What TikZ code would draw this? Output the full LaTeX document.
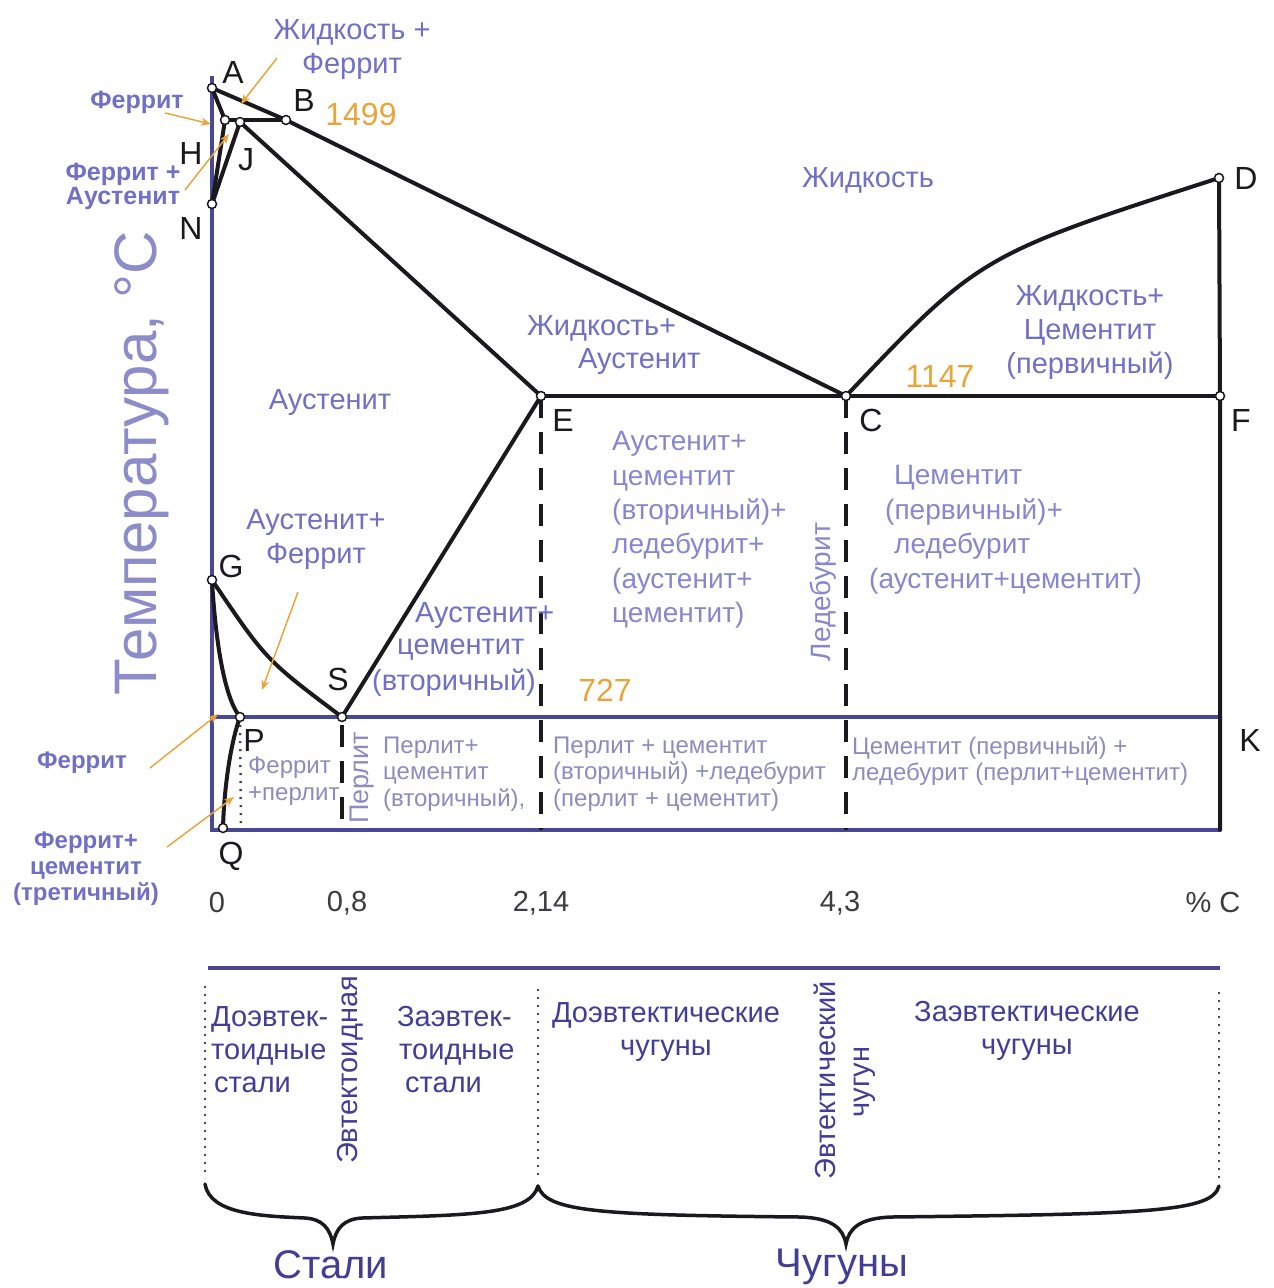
\documentclass[tikz,border=0pt]{standalone}
\usepackage{fontspec}
\setmainfont{Liberation Sans}
\usetikzlibrary{arrows.meta}
\definecolor{lab}{RGB}{112,112,196}
\definecolor{labl}{RGB}{135,135,205}
\definecolor{labs}{RGB}{140,140,190}
\definecolor{labd}{RGB}{66,62,150}
\definecolor{labt}{RGB}{140,140,200}
\definecolor{axb}{RGB}{72,72,150}
\definecolor{orn}{RGB}{232,165,60}
\definecolor{ink}{RGB}{25,25,30}
\begin{document}
\begin{tikzpicture}[x=1pt,y=-1pt,
  phaseln/.style={line width=4pt, draw=ink, line cap=round, line join=round},
  axisln/.style={line width=3.5pt, draw=axb},
  dashv/.style={line width=3.5pt, draw=ink, dash pattern=on 22pt off 14pt},
  dotv/.style={line width=2.5pt, draw=ink!80, dash pattern=on 2pt off 6pt},
  ptc/.style={circle, draw=ink, fill=white, line width=1.5pt, inner sep=0pt, minimum size=9pt},
  ptlab/.style={font=\fontsize{32}{32}\selectfont, text=ink, inner sep=0pt},
  lbig/.style={font=\fontsize{29}{34}\selectfont, text=lab, align=center, inner sep=0pt},
  lmid/.style={font=\fontsize{28}{34.4}\selectfont, text=labl, align=left, inner sep=0pt},
  lsmall/.style={font=\fontsize{24}{26.5}\selectfont, text=labs, align=left, inner sep=0pt},
  lside/.style={font=\bfseries\fontsize{25}{25}\selectfont, text=lab, align=center, inner sep=0pt},
  ltemp/.style={font=\fontsize{32}{32}\selectfont, text=orn, inner sep=0pt},
  lnum/.style={font=\fontsize{29}{29}\selectfont, text=ink!85, inner sep=0pt},
  lbot/.style={font=\fontsize{29}{33}\selectfont, text=labd, align=left, inner sep=0pt},
  oarr/.style={draw=orn, line width=1.5pt, -{Stealth[length=10pt,width=8pt]}},
  bracel/.style={line width=3.5pt, draw=ink, line cap=round},
]
\fill[white] (0,0) rectangle (1274,1288);
\useasboundingbox (0,0) rectangle (1274,1288);

% key points
\coordinate (cA) at (212,88);
\coordinate (cH) at (225,120);
\coordinate (cJ) at (240,122);
\coordinate (cB) at (286,120);
\coordinate (cN) at (212,204);
\coordinate (cD) at (1219,178);
\coordinate (cE) at (541,396);
\coordinate (cC) at (846,396);
\coordinate (cF) at (1220,396);
\coordinate (cG) at (212,580);
\coordinate (cS) at (342,717);
\coordinate (cP) at (240,717);
\coordinate (cQ) at (223,828);
\coordinate (cK) at (1220,717);
\coordinate (cTop) at (212,76);
\coordinate (cO) at (212,830);
\coordinate (cBR) at (1220,830);
\coordinate (cL) at (212,717);
\coordinate (cEb) at (541,830);
\coordinate (cCb) at (846,830);
\coordinate (cSb) at (342,830);
\coordinate (cPb) at (241,830);

% axes (blue)
\draw[axisln] (cTop) -- (cO) -- (cBR);
\draw[axisln] (cL) -- (cK);

% dashed and dotted verticals
\draw[dashv] (cE) -- (cEb);
\draw[dashv] (cC) -- (cCb);
\draw[dashv] ([yshift=-8pt]cS) -- (cSb);
\draw[dotv] (cP) -- (cPb);

% phase lines
\draw[phaseln] (cA) -- (cB);
\draw[phaseln] (cA) -- (cH);
\draw[phaseln] (cH) -- (cB);
\draw[phaseln] (cH) -- (cN);
\draw[phaseln] (cJ) -- (cN);
\draw[phaseln] (cB) -- (cC);
\draw[phaseln] (cJ) -- (cE);
\draw[phaseln] (cC) .. controls (980,255) .. (cD);
\draw[phaseln] (cD) -- (cF) -- (cBR);
\draw[phaseln] (cE) -- (cF);
\draw[phaseln] (cE) -- (cS);
\draw[phaseln] (cG) .. controls (266,660) .. (cS);
\draw[phaseln] (cG) .. controls (216,650) and (226,700) .. (cP);
\draw[phaseln] (cP) .. controls (230,745) and (224,790) .. (cQ);

% point circles
\foreach \p in {A,H,J,B,N,D,E,C,F,G,S,P,Q}
  \node[ptc] (p\p) at (c\p) {};

% point letters
\node[ptlab] (tA) at (233,72) {A};
\node[ptlab] (tB) at (304,100) {B};
\node[ptlab] (tH) at (191,153) {H};
\node[ptlab] (tJ) at (246,160) {J};
\node[ptlab] (tN) at (191,228) {N};
\node[ptlab] (tD) at (1246,178) {D};
\node[ptlab] (tE) at (563,420) {E};
\node[ptlab] (tC) at (871,420) {C};
\node[ptlab] (tF) at (1241,420) {F};
\node[ptlab] (tG) at (231,566) {G};
\node[ptlab] (tS) at (338,679) {S};
\node[ptlab] (tP) at (254,740) {P};
\node[ptlab] (tQ) at (231,856) {Q};
\node[ptlab] (tK) at (1250,740) {K};

% temperatures
\node[ltemp] (t1499) at (361,114) {1499};
\node[ltemp] (t1147) at (940,376) {1147};
\node[ltemp] (t727) at (605,690) {727};

% axis title and numbers
\node[font=\fontsize{60}{60}\selectfont, text=labt, inner sep=0pt, rotate=90] (ttemp) at (142,463) {Температура, °С};
\node[lnum] (n0) at (217,903) {0};
\node[lnum] (n08) at (347,903) {0,8};
\node[lnum] (n214) at (541,903) {2,14};
\node[lnum] (n43) at (840,903) {4,3};
\node[lnum] (npc) at (1213,903) {\% C};

% region labels
\node[lbig] (lLF) at (352,50) {Жидкость +\\Феррит};
\node[lside] (lF1) at (137,102) {Феррит};
\node[lside, font=\bfseries\fontsize{25}{24}\selectfont] (lFA) at (123,186) {Феррит +\\Аустенит};
\node[lbig] (lL) at (868,180) {Жидкость};
\node[lbig] (lLC) at (1090,333) {Жидкость+\\Цементит\\(первичный)};
\node[lbig, anchor=west] (lLA1) at (527,328) {Жидкость+};
\node[lbig, anchor=west] (lLA2) at (578,362) {Аустенит};
\node[lbig] (lAu) at (330,403) {Аустенит};
\node[lbig] (lAF) at (316,540) {Аустенит+\\Феррит};
\node[lbig, anchor=west] (lAC1) at (415,616) {Аустенит+};
\node[lbig, anchor=west] (lAC2) at (397,650) {цементит};
\node[lbig, anchor=west] (lAC3) at (372,683) {(вторичный)};
\node[lmid, anchor=west] (lM) at (612,530) {Аустенит+\\цементит\\(вторичный)+\\ледебурит+\\(аустенит+\\цементит)};
\node[lmid, anchor=west] (lR1) at (894,478) {Цементит};
\node[lmid, anchor=west] (lR2) at (885,512) {(первичный)+};
\node[lmid, anchor=west] (lR3) at (894,546) {ледебурит};
\node[lmid, anchor=west] (lR4) at (869,581) {(аустенит+цементит)};
\node[lmid, rotate=90] (lLed) at (823,592) {Ледебурит};

% lower region labels
\node[lsmall, anchor=west] (lFP) at (248,781) {Феррит\\+перлит};
\node[lsmall, font=\fontsize{27}{27}\selectfont, rotate=90] (lPer) at (362,778) {Перлит};
\node[lsmall, anchor=west] (lPC) at (383,774) {Перлит+\\цементит\\(вторичный),};
\node[lsmall, anchor=west] (lPCL) at (553,774) {Перлит + цементит\\(вторичный) +ледебурит\\(перлит + цементит)};
\node[lsmall, anchor=west] (lCL) at (852,761) {Цементит (первичный) +\\ледебурит (перлит+цементит)};

% side labels with orange arrows
\node[lside, font=\bfseries\fontsize{24}{24}\selectfont] (lF2) at (82,763) {Феррит};
\node[lside, font=\bfseries\fontsize{24}{26}\selectfont] (lFC) at (86,869) {Феррит+\\цементит\\(третичный)};

\coordinate (a1s) at (277,58);  \coordinate (a1e) at (241,104);
\coordinate (a2s) at (165,113); \coordinate (a2e) at (211,124);
\coordinate (a3s) at (185,190); \coordinate (a3e) at (229,134);
\coordinate (a4s) at (298,592); \coordinate (a4e) at (262,690);
\coordinate (a5s) at (150,768); \coordinate (a5e) at (218,714);
\coordinate (a6s) at (167,847); \coordinate (a6e) at (234,797);
\draw[oarr] (a1s) -- (a1e);
\draw[oarr] (a2s) -- (a2e);
\draw[oarr] (a3s) -- (a3e);
\draw[oarr] (a4s) -- (a4e);
\draw[oarr] (a5s) -- (a5e);
\draw[oarr] (a6s) -- (a6e);

% bottom classification
\coordinate (bl1) at (208,968); \coordinate (bl2) at (1220,968);
\draw[axisln] (bl1) -- (bl2);
\coordinate (d1a) at (205,986);  \coordinate (d1b) at (205,1178);
\coordinate (d2a) at (538,989);  \coordinate (d2b) at (538,1178);
\coordinate (d3a) at (1219,992); \coordinate (d3b) at (1219,1180);
\draw[dotv] (d1a) -- (d1b);
\draw[dotv] (d2a) -- (d2b);
\draw[dotv] (d3a) -- (d3b);

\node[lbot, anchor=west] (b1) at (211,1050) {Доэвтек-\\тоидные\\\hspace*{3pt}стали};
\node[lbot, anchor=west] (b2) at (397,1050) {Заэвтек-\\\hspace*{2pt}тоидные\\\hspace*{8pt}стали};
\node[lbot, rotate=90] (b3) at (350,1070) {Эвтектоидная};
\node[lbot, align=center] (b4) at (666,1032) {Доэвтектические\\чугуны};
\node[lbot, rotate=90] (b5) at (825,1080) {Эвтектический};
\node[lbot, rotate=90] (b6) at (865,1082) {чугун};
\node[lbot, align=center] (b7) at (1027,1031) {Заэвтектические\\чугуны};

% braces
\draw[bracel] (205,1184) .. controls (210,1214) and (260,1216) .. (305,1218)
  .. controls (322,1219) and (330,1228) .. (333,1244)
  .. controls (336,1228) and (344,1219) .. (362,1218)
  .. controls (470,1215) and (530,1215) .. (538,1186);
\draw[bracel] (538,1186) .. controls (546,1212) and (600,1215) .. (800,1217)
  .. controls (832,1218) and (843,1228) .. (846,1244)
  .. controls (849,1228) and (860,1218) .. (892,1217)
  .. controls (1150,1214) and (1212,1212) .. (1219,1186);

\node[lbot, font=\fontsize{40}{40}\selectfont] (bS) at (331,1265) {Стали};
\node[lbot, font=\fontsize{40}{40}\selectfont] (bC) at (842,1267) {Чугуны};
\end{tikzpicture}
\end{document}
